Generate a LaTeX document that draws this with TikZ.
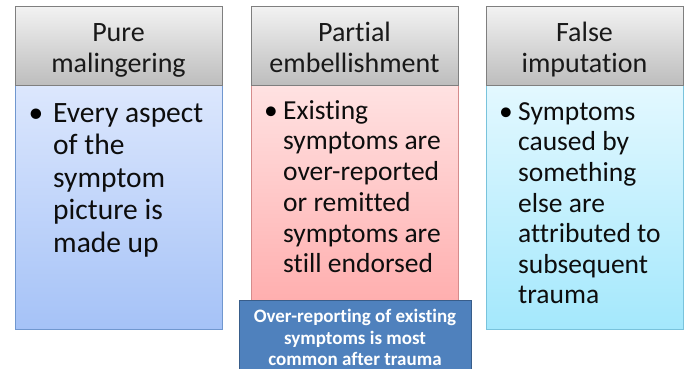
\documentclass[tikz,border=0pt]{standalone}
\usepackage{fontspec}
\setmainfont[Ligatures={NoCommon}]{Carlito}
\definecolor{hdtop}{HTML}{F2F2F2}
\definecolor{hdbot}{HTML}{BDBDBD}
\definecolor{hdline}{HTML}{7F7F7F}
\definecolor{btop}{HTML}{DCE7FD}
\definecolor{bbot}{HTML}{A5C2F7}
\definecolor{bline}{HTML}{7097CF}
\definecolor{rtop}{HTML}{FFE2E2}
\definecolor{rbot}{HTML}{FFA8A8}
\definecolor{rline}{HTML}{D58C8C}
\definecolor{ctop}{HTML}{E3F8FF}
\definecolor{cbot}{HTML}{A4E8FC}
\definecolor{cline}{HTML}{79C3DC}
\definecolor{navy}{HTML}{4F81BD}
\definecolor{navyline}{HTML}{385D8A}
\begin{document}
\begin{tikzpicture}[x=1pt,y=-1pt,
  hdr/.style={draw=hdline, line width=0.8pt, top color=hdtop, bottom color=hdbot,
    minimum width=207, minimum height=79, anchor=north west, inner sep=0},
  hdrtxt/.style={anchor=north, inner sep=0, align=center, text=black!90,
    font=\fontsize{28}{31}\selectfont},
  bodybox/.style={line width=0.8pt, minimum width=207, anchor=north west, inner sep=0},
  bodytxt/.style={anchor=north west, inner sep=0, align=left, text=black!95},
  bul/.style={anchor=base, inner sep=0}
]
\clip (0,0) rectangle (685,369);
\fill[white] (0,0) rectangle (685,369);

% bodies
\node[bodybox, draw=bline, top color=btop, bottom color=bbot, minimum height=244] (body1) at (15,85) {};
\node[bodybox, draw=rline, top color=rtop, bottom color=rbot, minimum height=244] (body2) at (251,85) {};
\node[bodybox, draw=cline, top color=ctop, bottom color=cbot, minimum width=197, minimum height=244] (body3) at (486,85) {};

% headers
\node[hdr] (h1) at (15,6) {};
\node[hdr] (h2) at (251,6) {};
\node[hdr, minimum width=197] (h3) at (486,6) {};
\node[hdrtxt] (h1t) at (118.5,19) {\rule{0pt}{22pt}Pure\\malingering};
\node[hdrtxt] (h2t) at (354.5,19) {\rule{0pt}{22pt}Partial\\embellishment};
\node[hdrtxt] (h3t) at (584.5,19) {\rule{0pt}{22pt}False\\imputation};

% body texts
\node[bodytxt, font=\fontsize{29.5}{32.5}\selectfont] (t1) at (53,100)
  {\rule{0pt}{22pt}Every aspect\\of the\\symptom\\picture is\\made up};
\node[bul, font=\fontsize{29.5}{32.5}\selectfont] (b1) at (36,122) {•};

\node[bodytxt, font=\fontsize{27.5}{30.7}\selectfont] (t2) at (283,98)
  {\rule{0pt}{21pt}Existing\\symptoms are\\over-reported\\or remitted\\symptoms are\\still endorsed};
\node[bul, font=\fontsize{27.5}{30.7}\selectfont] (b2) at (271,119) {•};

\node[bodytxt, font=\fontsize{27.5}{30.6}\selectfont] (t3) at (518,99)
  {\rule{0pt}{21pt}Symptoms\\caused by\\something\\else are\\attributed to\\subsequent\\trauma};
\node[bul, font=\fontsize{27.5}{30.6}\selectfont] (b3) at (506,120) {•};

% callout
\node[draw=navyline, line width=0.9pt, fill=navy, minimum width=232, minimum height=80,
  anchor=north west, inner sep=0] (note) at (239,300) {};
\node[anchor=north, inner sep=0, align=center, text=white,
  font=\bfseries\fontsize{19}{21.2}\selectfont] (notet) at (355,307.7)
  {\rule{0pt}{15pt}Over-reporting of existing\\symptoms is most\\common after trauma};
\end{tikzpicture}
\end{document}
